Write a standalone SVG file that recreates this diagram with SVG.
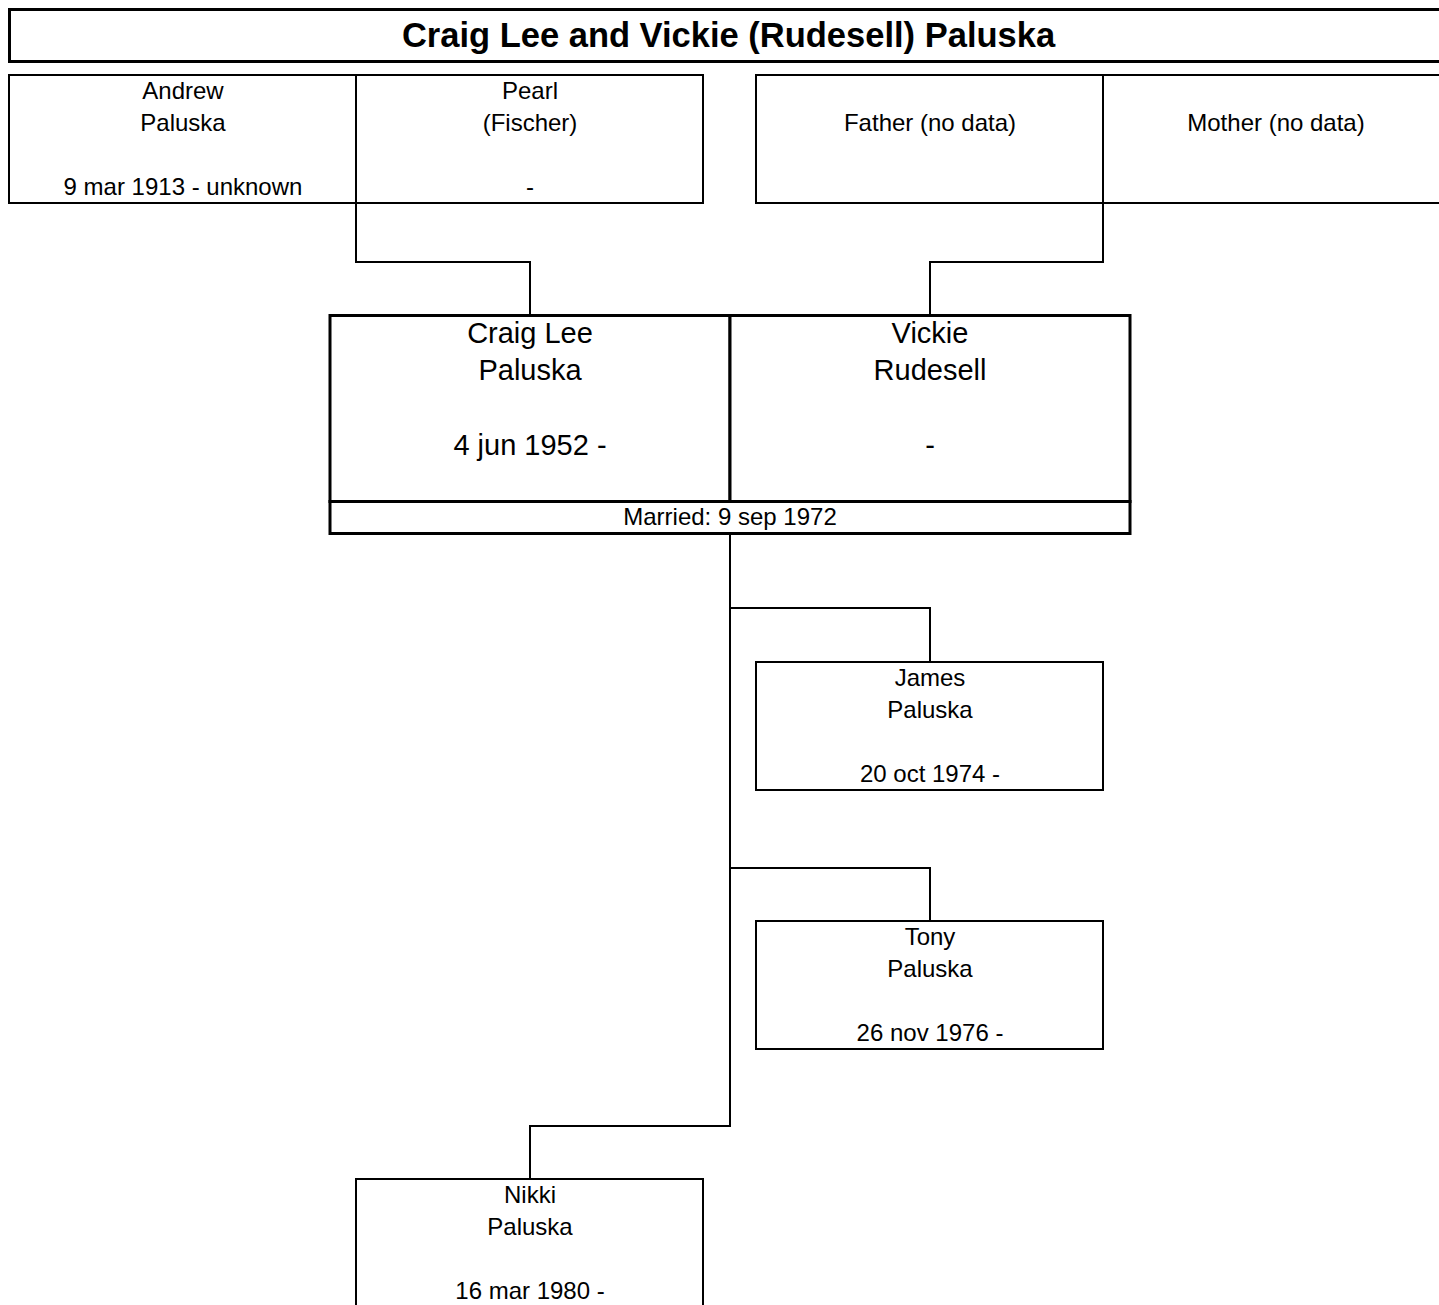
<svg xmlns="http://www.w3.org/2000/svg" width="1439" height="1305" viewBox="0 0 1439 1305">
<style>
  .bg { fill: #ffffff; }
  .box { fill: #ffffff; stroke: #000000; stroke-width: 2; }
  .bold-box { fill: #ffffff; stroke: #000000; stroke-width: 3; }
  .conn { fill: none; stroke: #000000; stroke-width: 2; }
  text { font-family: "Liberation Sans", Arial, sans-serif; fill: #000000; text-anchor: middle; }
  .s { font-size: 24px; }
  .l { font-size: 29px; }
  .t { font-size: 34.5px; font-weight: bold; }
</style>
<rect class="bg" x="0" y="0" width="1439" height="1305"/>

<g id="title">
  <rect class="bold-box" x="9.5" y="9.5" width="1450" height="52"/>
  <text class="t" x="728.5" y="47">Craig Lee and Vickie (Rudesell) Paluska</text>
</g>

<g id="connectors">
  <polyline class="conn" points="356,203 356,262 530,262 530,315"/>
  <polyline class="conn" points="1103,203 1103,262 930,262 930,315"/>
  <polyline class="conn" points="730,534 730,1126 530,1126 530,1179"/>
  <polyline class="conn" points="730,608 930,608 930,662"/>
  <polyline class="conn" points="730,868 930,868 930,921"/>
</g>

<g id="andrew">
  <rect class="box" x="9" y="75" width="347" height="128"/>
  <text class="s" x="183" y="99">Andrew</text>
  <text class="s" x="183" y="131">Paluska</text>
  <text class="s" x="183" y="195">9 mar 1913 - unknown</text>
</g>

<g id="pearl">
  <rect class="box" x="356" y="75" width="347" height="128"/>
  <text class="s" x="530" y="99">Pearl</text>
  <text class="s" x="530" y="131">(Fischer)</text>
  <text class="s" x="530" y="195">-</text>
</g>

<g id="father">
  <rect class="box" x="756" y="75" width="347" height="128"/>
  <text class="s" x="930" y="131">Father (no data)</text>
</g>

<g id="mother">
  <rect class="box" x="1103" y="75" width="347" height="128"/>
  <text class="s" x="1276" y="131">Mother (no data)</text>
</g>

<g id="craig">
  <rect class="bold-box" x="330" y="315.5" width="400" height="186"/>
  <text class="l" x="530" y="343">Craig Lee</text>
  <text class="l" x="530" y="380">Paluska</text>
  <text class="l" x="530" y="455">4 jun 1952 -</text>
</g>

<g id="vickie">
  <rect class="bold-box" x="730" y="315.5" width="400" height="186"/>
  <text class="l" x="930" y="343">Vickie</text>
  <text class="l" x="930" y="380">Rudesell</text>
  <text class="l" x="930" y="455">-</text>
</g>

<g id="marriage">
  <rect class="bold-box" x="330" y="501.5" width="800" height="32"/>
  <text class="s" x="730" y="525">Married: 9 sep 1972</text>
</g>

<g id="james">
  <rect class="box" x="756" y="662" width="347" height="128"/>
  <text class="s" x="930" y="686">James</text>
  <text class="s" x="930" y="718">Paluska</text>
  <text class="s" x="930" y="782">20 oct 1974 -</text>
</g>

<g id="tony">
  <rect class="box" x="756" y="921" width="347" height="128"/>
  <text class="s" x="930" y="945">Tony</text>
  <text class="s" x="930" y="977">Paluska</text>
  <text class="s" x="930" y="1041">26 nov 1976 -</text>
</g>

<g id="nikki">
  <rect class="box" x="356" y="1179" width="347" height="128"/>
  <text class="s" x="530" y="1203">Nikki</text>
  <text class="s" x="530" y="1235">Paluska</text>
  <text class="s" x="530" y="1299">16 mar 1980 -</text>
</g>
</svg>
